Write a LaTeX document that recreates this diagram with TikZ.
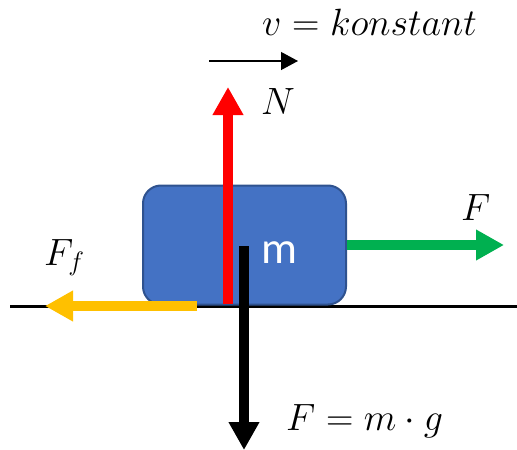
\RequirePackage{fix-cm}
\documentclass[tikz,border=0pt]{standalone}
\usepackage{fontspec}
\usepackage{tikz}
\usetikzlibrary{arrows.meta}
\newfontfamily\blockfont{Carlito}

\begin{document}
\begin{tikzpicture}[x=1pt, y=-1pt, font=\fontsize{38}{44}\selectfont,
  force/.style={-{Triangle[length=28pt, width=29pt]}, line width=10pt},
  lbl/.style={inner sep=0pt, anchor=base west}]
\definecolor{blockfill}{RGB}{68,114,196}\definecolor{blockline}{RGB}{47,82,143}
\definecolor{Nred}{RGB}{255,0,0}\definecolor{Fgreen}{RGB}{0,176,80}\definecolor{Fyellow}{RGB}{255,192,0}
\useasboundingbox (0,0) rectangle (517,450);
% ground and block
\coordinate (groundL) at (10,306); \coordinate (groundR) at (517,306);
\draw[line width=3pt] (groundL) -- (groundR);
\node[draw=blockline, fill=blockfill, line width=2pt, rounded corners=18pt,
  minimum width=203pt, minimum height=119pt, inner sep=0pt] (block) at (244.5,245) {};
\node[lbl, text=white, font=\blockfont\fontsize{45}{50}\selectfont] (mass) at (261,263) {m};
% ---- velocity
\coordinate (vstart) at (209,61); \coordinate (vend) at (298,61);
\draw[-{Triangle[length=17pt, width=18pt]}, line width=1.2pt] (vstart) -- (vend);
\node[lbl] (vlabel) at (262,35) {$v = konstant$};
% ---- forces
\coordinate (Nfoot) at (228,304); \coordinate (Ntip) at (228,87);
\draw[force, Nred] (Nfoot) -- (Ntip);
\node[lbl] (Nlabel) at (261,114) {$N$};
\coordinate (Ftip) at (504,245);
\draw[force, Fgreen] (block.east) -- (Ftip);
\node[lbl] (Flabel) at (461,220) {$F$};
\coordinate (Ffstart) at (197,306); \coordinate (Fftip) at (45,306);
\draw[force, Fyellow] (Ffstart) -- (Fftip);
\node[lbl] (Fflabel) at (44,265) {$F_f$};
\coordinate (Gtop) at (244,246); \coordinate (Gtip) at (244,450);
\draw[force, black] (Gtop) -- (Gtip);
\node[lbl] (Glabel) at (286,430) {$F = m \cdot g$};
\end{tikzpicture}
\end{document}
